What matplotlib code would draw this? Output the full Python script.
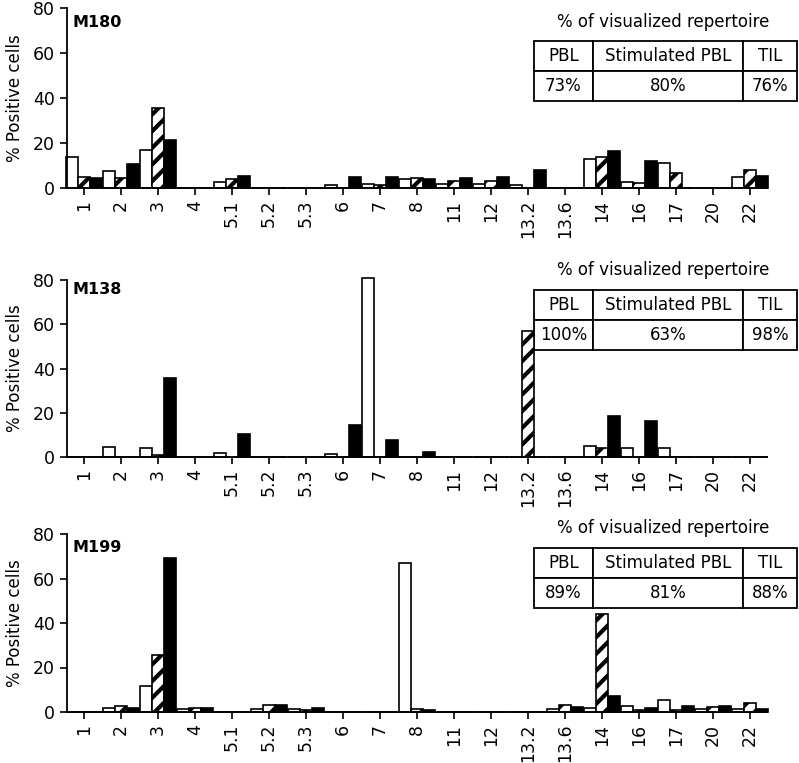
import matplotlib.pyplot as plt
import numpy as np

plt.rcParams['font.family'] = 'DejaVu Sans'
plt.rcParams['hatch.linewidth'] = 3.0

genes = ['1', '2', '3', '4', '5.1', '5.2', '5.3', '6', '7', '8', '11', '12',
         '13.2', '13.6', '14', '16', '17', '20', '22']

# % positive cells per V-beta family
m180_pbl = [14, 7.6, 17, 0, 2.7, 0, 0, 1.5, 2, 4, 1.7, 2, 1.5, 0, 13, 2.7, 11.3, 0, 4.8]
m180_stim = [5, 4.5, 35.5, 0, 4, 0, 0, 0, 1.5, 4.5, 3, 3, 0, 0, 14, 2.2, 6.5, 0, 8]
m180_til = [4.5, 10.7, 21.4, 0, 5.3, 0, 0, 5, 4.7, 3.8, 4.5, 5, 8, 0, 16.5, 12, 0, 0, 5.3]

m138_pbl = [0, 4.5, 4, 0, 1.8, 0, 0, 1.5, 81, 0, 0, 0, 0, 0, 5, 4, 4, 0, 0]
m138_stim = [0, 0, 1, 0, 0, 0, 0, 0, 0, 0, 0, 0, 57, 0, 4, 0, 0, 0, 0]
m138_til = [0, 0, 35.7, 0, 10.5, 0, 0, 14.5, 7.7, 2.3, 0, 0, 0, 0, 18.5, 16.3, 0, 0, 0]

m199_pbl = [0, 1.8, 11.6, 1.3, 0, 1.3, 1.3, 0, 0, 67, 0, 0, 0, 1.3, 2, 2.7, 5.4, 1.3, 1.3]
m199_stim = [0, 2.5, 25.4, 1.8, 0, 3, 1.1, 0, 0, 1.3, 0, 0, 0, 3.3, 44, 1.1, 1.1, 2.3, 4]
m199_til = [0, 2, 69, 1.8, 0, 3, 2, 0, 0, 1.1, 0, 0, 0, 2.2, 7.3, 1.6, 2.7, 2.7, 1.3]

patients = ['M180', 'M138', 'M199']
vis_header = ['PBL', 'Stimulated PBL', 'TIL']
vis_pbl = ['73%', '100%', '89%']
vis_stim = ['80%', '63%', '81%']
vis_til = ['76%', '98%', '88%']

data = [(m180_pbl, m180_stim, m180_til),
        (m138_pbl, m138_stim, m138_til),
        (m199_pbl, m199_stim, m199_til)]

W, H = 799, 763
fig = plt.figure(figsize=(W / 100, H / 100), dpi=100)

# axes boxes in pixels: (top, bottom)
boxes = [(8, 188), (280, 457), (534, 712)]
tbl_px = [(41, 101), (290, 350), (548, 608)]
title_px = [22, 270, 528]
label_px = [22, 290, 547]
left, right = 67, 767

x = np.arange(len(genes))
bw = 0.33

for i, (top, bot) in enumerate(boxes):
    ax = fig.add_axes([left / W, 1 - bot / H, (right - left) / W, (bot - top) / H])
    pbl, stim, til = data[i]
    ax.bar(x - bw, pbl, bw, color='white', edgecolor='black', lw=1.2, clip_on=False)
    ax.bar(x, stim, bw, color='white', edgecolor='black', lw=1.2, hatch='//', clip_on=False)
    ax.bar(x + bw, til, bw, color='black', edgecolor='black', lw=1.2, clip_on=False)

    ax.set_xlim(-0.46, len(genes) - 0.54)
    ax.set_ylim(0, 80)
    ax.set_yticks([0, 20, 40, 60, 80])
    ax.set_xticks(x)
    ax.set_xticklabels(genes, rotation=90)
    ax.tick_params(labelsize=12.5, direction='out', length=5, width=1.2)
    for s in ['top', 'right']:
        ax.spines[s].set_visible(False)
    for s in ['left', 'bottom']:
        ax.spines[s].set_linewidth(1.3)

    ax.set_ylabel('% Positive cells', fontsize=12)
    ax.yaxis.set_label_coords(-(left - 24) / (right - left), 0.5)

    h = bot - top
    ax.text(0.008, 1 - (label_px[i] - top) / h, patients[i], transform=ax.transAxes,
            fontsize=11.5, fontweight='bold', va='center', ha='left')
    ax.text((663 - left) / (right - left), 1 - (title_px[i] - top) / h,
            '% of visualized repertoire', transform=ax.transAxes,
            fontsize=12, ha='center', va='center')

    t0, t1 = tbl_px[i]
    cw = np.array([59, 150, 54])
    tb = ax.table(cellText=[vis_header, [vis_pbl[i], vis_stim[i], vis_til[i]]],
                  colWidths=list(cw / cw.sum()), cellLoc='center',
                  bbox=[(534 - left) / (right - left), 1 - (t1 - top) / h,
                        cw.sum() / (right - left), (t1 - t0) / h])
    tb.auto_set_font_size(False)
    tb.set_fontsize(12)
    tb.set_clip_on(False)
    for cell in tb.get_celld().values():
        cell.set_linewidth(1.3)
        cell.PAD = 0.02

fig.savefig('out.png', dpi=100)
